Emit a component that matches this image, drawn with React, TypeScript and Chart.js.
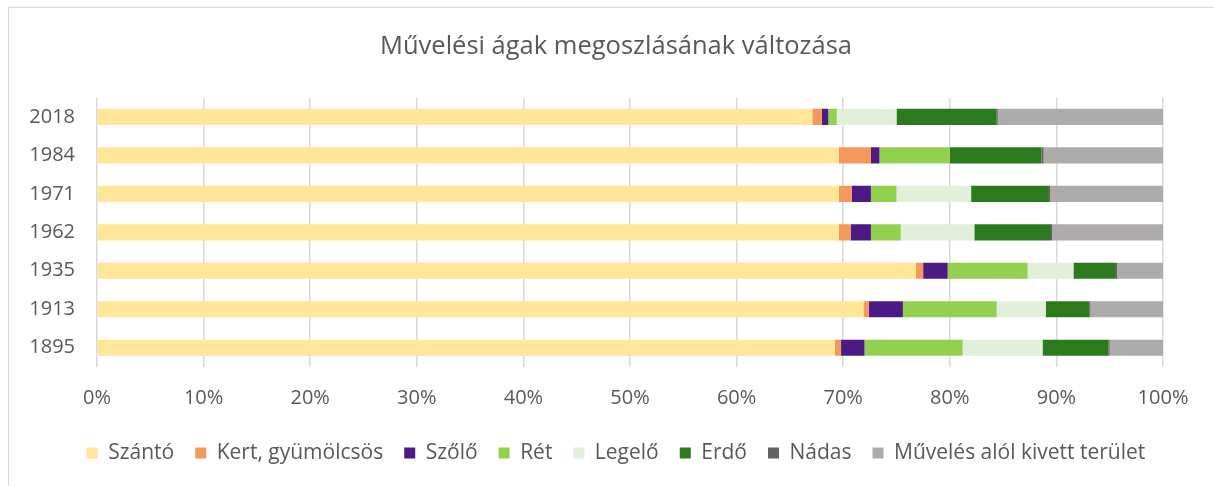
import React, { useEffect, useRef } from "react";
import { Chart, registerables } from "chart.js";

Chart.register(...registerables);

const years = ["2018", "1984", "1971", "1962", "1935", "1913", "1895"];
const seriesNames = [
  "Szántó",
  "Kert, gyümölcsös",
  "Szőlő",
  "Rét",
  "Legelő",
  "Erdő",
  "Nádas",
  "Művelés alól kivett terület",
];
const seriesColors = [
  "#FFE699",
  "#F4995C",
  "#4D1A85",
  "#92D050",
  "#E2EFDA",
  "#2B7B1E",
  "#626262",
  "#AEABAB",
];
const szanto = [67.1, 69.6, 69.6, 69.6, 76.8, 71.9, 69.2];
const kert = [0.9, 3.0, 1.2, 1.1, 0.7, 0.5, 0.6];
const szolo = [0.6, 0.8, 1.8, 1.9, 2.3, 3.2, 2.2];
const ret = [0.8, 6.6, 2.4, 2.8, 7.5, 8.8, 9.2];
const legelo = [5.6, 0, 7.0, 6.9, 4.3, 4.6, 7.5];
const erdo = [9.4, 8.6, 7.3, 7.1, 3.9, 4.1, 6.2];
const nadas = [0.1, 0.2, 0.1, 0.2, 0.2, 0.1, 0.1];
const kivett = [15.5, 11.2, 10.6, 10.4, 4.3, 6.8, 5.0];
const seriesValues = [szanto, kert, szolo, ret, legelo, erdo, nadas, kivett];
const xTicks = [0, 10, 20, 30, 40, 50, 60, 70, 80, 90, 100];

const FONT = "'Open Sans', sans-serif";
const TEXT = "#595959";

export default function App() {
  const ref = useRef<HTMLCanvasElement | null>(null);
  useEffect(() => {
    if (!ref.current) return;
    const chart = new Chart(ref.current, {
      type: "bar",
      data: {
        labels: years,
        datasets: seriesNames.map((name, i) => ({
          label: name,
          data: seriesValues[i],
          backgroundColor: seriesColors[i],
          borderWidth: 0,
          barPercentage: 0.42,
          categoryPercentage: 1,
        })),
      },
      options: {
        indexAxis: "y",
        animation: false,
        responsive: false,
        maintainAspectRatio: false,
        layout: { padding: { top: 31, right: 9, bottom: 12.5, left: 27 } },
        scales: {
          x: {
            stacked: true,
            min: 0,
            max: 100,
            afterBuildTicks: (scale: any) => {
              scale.ticks = xTicks.map((v) => ({ value: v }));
            },
            afterFit: (scale: any) => {
              scale.height = 54.5;
            },
            ticks: {
              callback: (v: any) => v + "%",
              color: TEXT,
              font: { family: FONT, size: 20 },
              padding: 19.5,
              maxRotation: 0,
            },
            grid: { color: "#d9d9d9", lineWidth: 1.5, drawTicks: false },
            border: { display: false },
          },
          y: {
            stacked: true,
            afterFit: (scale: any) => {
              scale.width = 70;
            },
            ticks: {
              color: TEXT,
              font: { family: FONT, size: 20 },
              padding: 22,
            },
            grid: { display: false, drawTicks: false },
            border: { display: false },
          },
          spacer: {
            type: "linear",
            axis: "y",
            position: "right",
            min: 0,
            max: 1,
            afterFit: (scale: any) => {
              scale.width = 42;
            },
            ticks: { display: false },
            grid: { display: false, drawTicks: false },
            border: { display: false },
          },
        },
        plugins: {
          title: {
            display: true,
            text: "Művelési ágak megoszlásának változása",
            color: TEXT,
            font: { family: FONT, size: 25.5, weight: "normal" },
            padding: { top: 0, bottom: 36 },
          },
          legend: {
            position: "bottom",
            labels: {
              color: TEXT,
              font: { family: FONT, size: 21 },
              boxWidth: 11,
              boxHeight: 11,
              padding: 21,
            },
          },
          tooltip: { enabled: false },
        },
      },
    });
    return () => chart.destroy();
  }, []);
  return (
    <div style={{ position: "fixed", left: 0, top: 0, width: 1214, height: 486, overflow: "hidden", background: "#fff" }}>
      <div
        style={{
          position: "absolute",
          left: 8,
          top: 7,
          width: 1400,
          height: 700,
          border: "1px solid #d9d9d9",
        }}
      />
      <canvas ref={ref} width={1214} height={486} style={{ position: "absolute", left: 0, top: 0 }} />
    </div>
  );
}
